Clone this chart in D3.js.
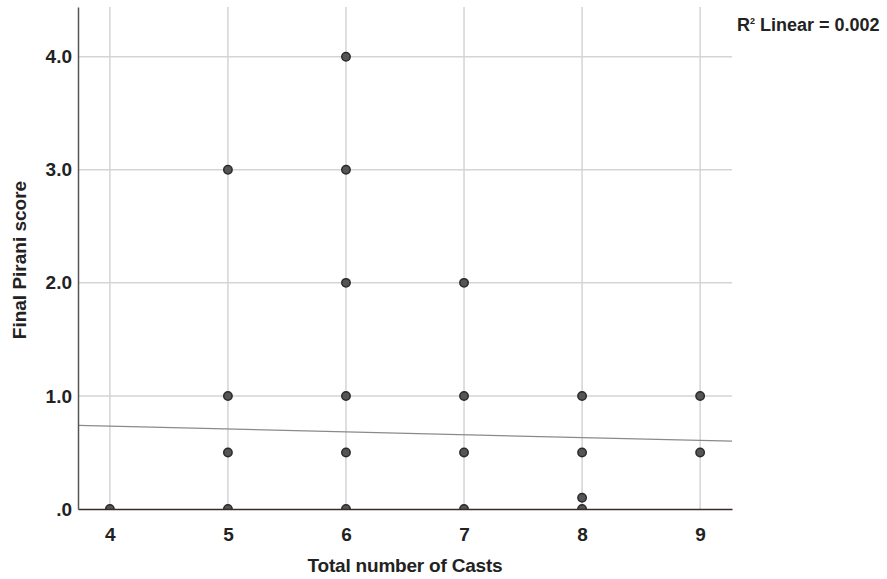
<!DOCTYPE html>
<html>
<head>
<meta charset="utf-8">
<script src="https://cdn.jsdelivr.net/npm/d3@7"></script>
<style>
  body { margin: 0; background: #fff; }
  text { font-family: "Liberation Sans", Arial, sans-serif; font-weight: bold; fill: #222; }
</style>
</head>
<body>
<div id="content"></div>
<script>
// data
const casts = [4, 5, 5, 5, 5, 6, 6, 6, 6, 6, 6, 7, 7, 7, 7, 8, 8, 8, 8, 9, 9];
const pirani = [0, 3, 1, 0.5, 0, 4, 3, 2, 1, 0.5, 0, 2, 1, 0.5, 0, 1, 0.5, 0.1, 0, 1, 0.5];
const xTicks = [4, 5, 6, 7, 8, 9];
const yTicks = [0, 1, 2, 3, 4];
const fitIntercept = 0.834;
const fitSlope = -0.0253;
const legendText = 'Linear = 0.002';

const width = 887, height = 579;
const margin = {top: 7, right: 155, bottom: 70, left: 78};

const svg = d3.select('#content').append('svg')
    .attr('width', width)
    .attr('height', height);

const x = d3.scaleLinear()
    .domain([3.73, 9.27])
    .range([margin.left, width - margin.right]);

const y = d3.scaleLinear()
    .domain([0, 4.44])
    .range([height - margin.bottom, margin.top]);

svg.append('clipPath').attr('id', 'plot-clip')
  .append('rect')
    .attr('x', margin.left)
    .attr('y', margin.top)
    .attr('width', x.range()[1] - margin.left)
    .attr('height', y.range()[0] - margin.top);

// grid
svg.append('g').selectAll('line.hgrid').data(yTicks.filter(d => d > 0))
  .enter().append('line')
    .attr('x1', x.range()[0]).attr('x2', x.range()[1])
    .attr('y1', d => y(d)).attr('y2', d => y(d))
    .attr('stroke', '#d4d4d4').attr('stroke-width', 1.5);

svg.append('g').selectAll('line.vgrid').data(xTicks)
  .enter().append('line')
    .attr('x1', d => x(d)).attr('x2', d => x(d))
    .attr('y1', y.range()[0]).attr('y2', y.range()[1])
    .attr('stroke', '#d4d4d4').attr('stroke-width', 1.5);

// fit line
svg.append('line')
    .attr('x1', x(x.domain()[0])).attr('y1', y(fitIntercept + fitSlope * x.domain()[0]))
    .attr('x2', x(x.domain()[1])).attr('y2', y(fitIntercept + fitSlope * x.domain()[1]))
    .attr('stroke', '#8a8a8a').attr('stroke-width', 1.2);

// points
svg.append('g').attr('clip-path', 'url(#plot-clip)')
  .selectAll('circle').data(casts)
  .enter().append('circle')
    .attr('cx', d => x(d))
    .attr('cy', (d, i) => y(pirani[i]))
    .attr('r', 4.2)
    .attr('fill', '#555')
    .attr('stroke', '#2a2a2a')
    .attr('stroke-width', 1.5);

// axes
const xAxis = svg.append('g')
    .attr('transform', `translate(0,${y.range()[0]})`)
    .call(d3.axisBottom(x).tickValues(xTicks).tickSize(0).tickPadding(19).tickFormat(d3.format('d')));
xAxis.select('.domain').attr('stroke', '#3a2a2a').attr('stroke-width', 1.5);

const yAxis = svg.append('g')
    .attr('transform', `translate(${margin.left},0)`)
    .call(d3.axisLeft(y).tickValues(yTicks).tickSize(0).tickPadding(6)
        .tickFormat(d => d === 0 ? '.0' : d3.format('.1f')(d)));
yAxis.select('.domain').attr('stroke', '#555').attr('stroke-width', 1.5);

svg.selectAll('.tick text')
    .attr('font-size', 19)
    .attr('font-family', '"Liberation Sans", Arial, sans-serif')
    .attr('font-weight', 'bold')
    .attr('fill', '#222');

// axis titles
svg.append('text')
    .attr('x', 405).attr('y', 572)
    .attr('text-anchor', 'middle')
    .attr('font-size', 19)
    .attr('letter-spacing', -0.2)
    .text('Total number of Casts');

svg.append('text')
    .attr('transform', 'translate(26,260) rotate(-90)')
    .attr('text-anchor', 'middle')
    .attr('font-size', 19)
    .text('Final Pirani score');

// legend
const leg = svg.append('text')
    .attr('x', 737).attr('y', 31)
    .attr('font-size', 18);
leg.append('tspan').text('R');
leg.append('tspan').attr('font-size', 9).attr('dy', -7).text('2');
leg.append('tspan').attr('dy', 7).text(' ' + legendText);
</script>
</body>
</html>
